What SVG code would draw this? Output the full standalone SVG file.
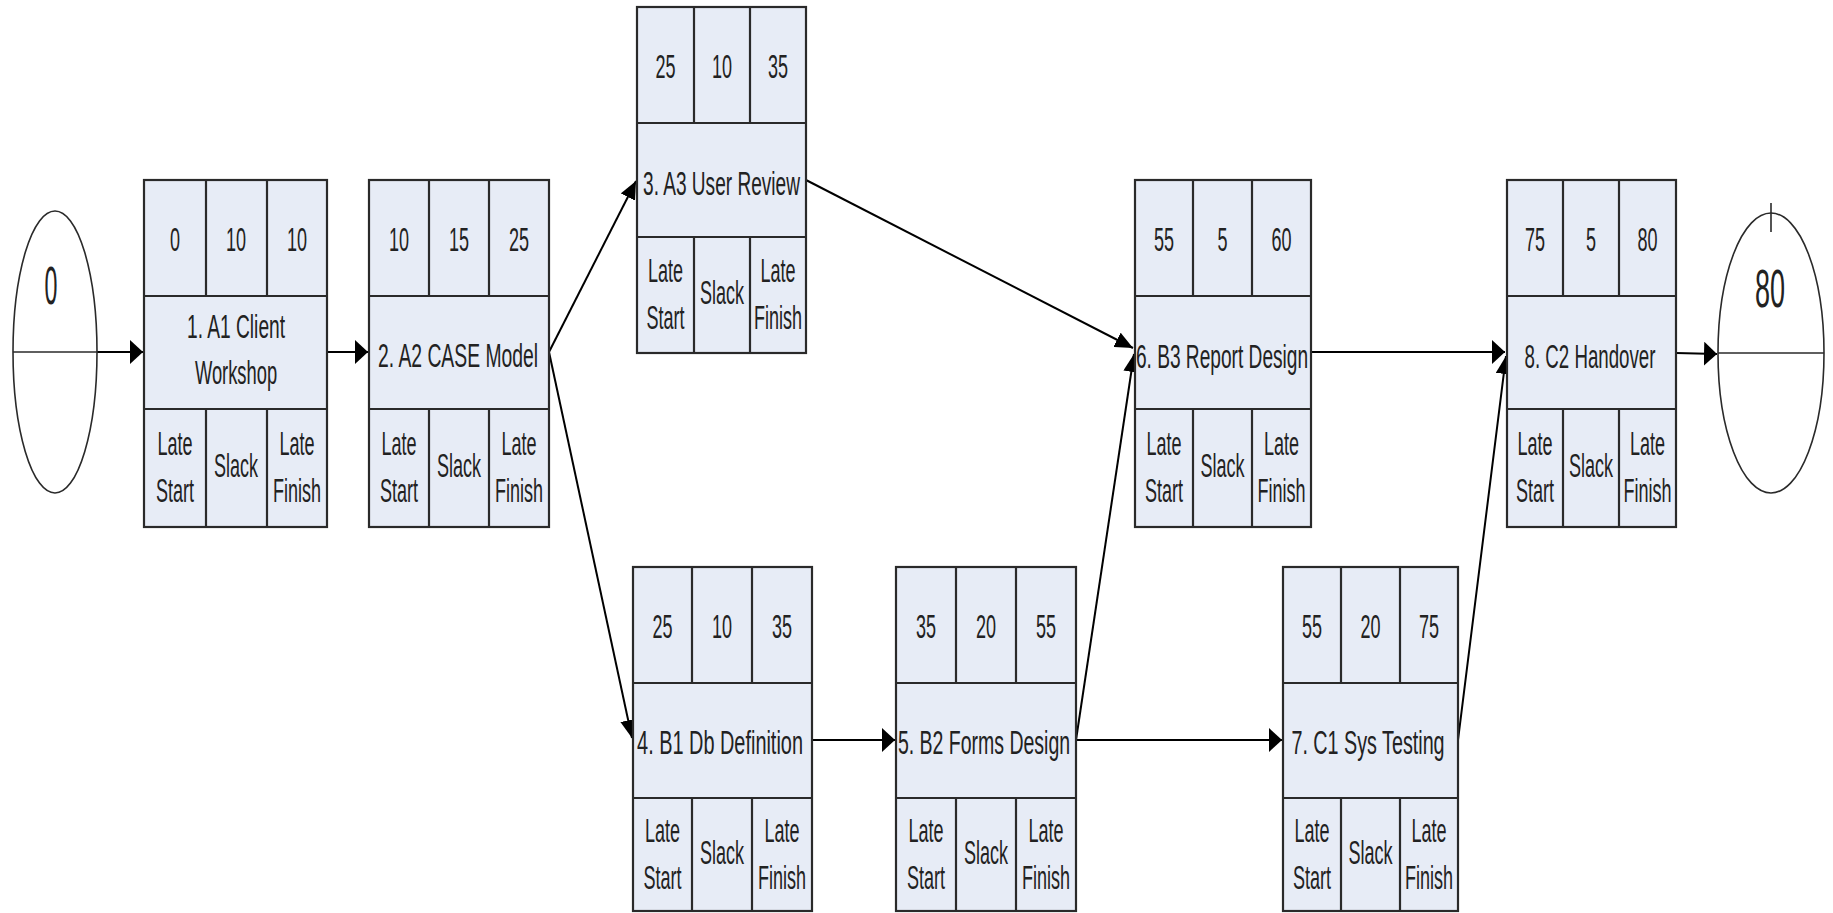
<svg xmlns="http://www.w3.org/2000/svg" width="1833" height="913" viewBox="0 0 1833 913">
<defs>
<style>
.bg{fill:#ffffff}
.box{fill:#e7ecf6;stroke:#2a2a2a;stroke-width:2.2}
.div{stroke:#2a2a2a;stroke-width:2.2;fill:none}
.ev{fill:#ffffff;stroke:#2a2a2a;stroke-width:1.6}
.evl{stroke:#2a2a2a;stroke-width:1.6;fill:none}
text{font-family:"Liberation Sans",Arial,sans-serif;font-size:34px;fill:#222;text-anchor:middle}
.big{font-size:54px}
.con{stroke:#000;stroke-width:2;fill:none}
.h{marker-end:url(#ah)}
.d{marker-end:url(#ad)}
</style>
<marker id="ah" viewBox="0 0 13 24" refX="13" refY="12" markerWidth="13" markerHeight="24" markerUnits="userSpaceOnUse" orient="auto">
<path d="M0,0 L13,12 L0,24 z" fill="#000"/>
</marker>
<marker id="ad" viewBox="0 0 18 16" refX="18" refY="8" markerWidth="18" markerHeight="16" markerUnits="userSpaceOnUse" orient="auto">
<path d="M0,0 L18,8 L0,16 z" fill="#000"/>
</marker>
</defs>
<rect class="bg" x="0" y="0" width="1833" height="913"/>

<g id="connectors">
<path class="con h" d="M97,352 L143,352"/>
<path class="con h" d="M327,352 L368,352"/>
<path class="con d" d="M549,352 L636,181"/>
<path class="con d" d="M549,352 L632,738"/>
<path class="con d" d="M806,180 L1133,348"/>
<path class="con h" d="M812,740 L895,740"/>
<path class="con d" d="M1076,740 L1134,354"/>
<path class="con h" d="M1076,740 L1282,740"/>
<path class="con h" d="M1311,352 L1505,352"/>
<path class="con d" d="M1458,740 L1506,356"/>
<path class="con h" d="M1676,353 L1717,354"/>
</g>

<g id="start">
<ellipse class="ev" cx="55" cy="352" rx="42" ry="141"/>
<path class="evl" d="M13,352 L97,352"/>
<text class="big" transform="translate(51,304) scale(.43,1)">0</text>
</g>

<g id="end">
<ellipse class="ev" cx="1771" cy="353" rx="53" ry="140"/>
<path class="evl" d="M1718,353 L1824,353"/>
<path class="evl" d="M1771,203 L1771,232"/>
<text class="big" transform="translate(1770,307) scale(.5,1)">80</text>
</g>

<g id="n1">
<rect class="box" x="144" y="180" width="183" height="347"/>
<path class="div" d="M144,296 H327 M144,409 H327 M206,180 V296 M267,180 V296 M206,409 V527 M267,409 V527"/>
<text transform="translate(175,251) scale(.53,1)">0</text>
<text transform="translate(236,251) scale(.53,1)">10</text>
<text transform="translate(297,251) scale(.53,1)">10</text>
<text transform="translate(236,338) scale(.53,1)" textLength="185" lengthAdjust="spacingAndGlyphs">1. A1 Client</text>
<text transform="translate(236,384) scale(.53,1)" textLength="155" lengthAdjust="spacingAndGlyphs">Workshop</text>
<text transform="translate(175,455) scale(.53,1)">Late</text>
<text transform="translate(175,502) scale(.53,1)">Start</text>
<text transform="translate(236,477) scale(.53,1)">Slack</text>
<text transform="translate(297,455) scale(.53,1)">Late</text>
<text transform="translate(297,502) scale(.53,1)">Finish</text>
</g>

<g id="n2">
<rect class="box" x="369" y="180" width="180" height="347"/>
<path class="div" d="M369,296 H549 M369,409 H549 M429,180 V296 M489,180 V296 M429,409 V527 M489,409 V527"/>
<text transform="translate(399,251) scale(.53,1)">10</text>
<text transform="translate(459,251) scale(.53,1)">15</text>
<text transform="translate(519,251) scale(.53,1)">25</text>
<text transform="translate(458,367) scale(.53,1)" textLength="302" lengthAdjust="spacingAndGlyphs">2. A2 CASE Model</text>
<text transform="translate(399,455) scale(.53,1)">Late</text>
<text transform="translate(399,502) scale(.53,1)">Start</text>
<text transform="translate(459,477) scale(.53,1)">Slack</text>
<text transform="translate(519,455) scale(.53,1)">Late</text>
<text transform="translate(519,502) scale(.53,1)">Finish</text>
</g>

<g id="n3">
<rect class="box" x="637" y="7" width="169" height="346"/>
<path class="div" d="M637,123 H806 M637,237 H806 M694,7 V123 M750,7 V123 M694,237 V353 M750,237 V353"/>
<text transform="translate(665.5,78) scale(.53,1)">25</text>
<text transform="translate(722,78) scale(.53,1)">10</text>
<text transform="translate(778,78) scale(.53,1)">35</text>
<text transform="translate(721.5,195) scale(.53,1)" textLength="296" lengthAdjust="spacingAndGlyphs">3. A3 User Review</text>
<text transform="translate(665.5,282) scale(.53,1)">Late</text>
<text transform="translate(665.5,329) scale(.53,1)">Start</text>
<text transform="translate(722,304) scale(.53,1)">Slack</text>
<text transform="translate(778,282) scale(.53,1)">Late</text>
<text transform="translate(778,329) scale(.53,1)">Finish</text>
</g>

<g id="n4">
<rect class="box" x="633" y="567" width="179" height="344"/>
<path class="div" d="M633,683 H812 M633,798 H812 M692,567 V683 M752,567 V683 M692,798 V911 M752,798 V911"/>
<text transform="translate(662.5,638) scale(.53,1)">25</text>
<text transform="translate(722,638) scale(.53,1)">10</text>
<text transform="translate(782,638) scale(.53,1)">35</text>
<text transform="translate(720,754) scale(.53,1)" textLength="313" lengthAdjust="spacingAndGlyphs">4. B1 Db Definition</text>
<text transform="translate(662.5,842) scale(.53,1)">Late</text>
<text transform="translate(662.5,889) scale(.53,1)">Start</text>
<text transform="translate(722,864) scale(.53,1)">Slack</text>
<text transform="translate(782,842) scale(.53,1)">Late</text>
<text transform="translate(782,889) scale(.53,1)">Finish</text>
</g>

<g id="n5">
<rect class="box" x="896" y="567" width="180" height="344"/>
<path class="div" d="M896,683 H1076 M896,798 H1076 M956,567 V683 M1016,567 V683 M956,798 V911 M1016,798 V911"/>
<text transform="translate(926,638) scale(.53,1)">35</text>
<text transform="translate(986,638) scale(.53,1)">20</text>
<text transform="translate(1046,638) scale(.53,1)">55</text>
<text transform="translate(984,754) scale(.53,1)" textLength="325" lengthAdjust="spacingAndGlyphs">5. B2 Forms Design</text>
<text transform="translate(926,842) scale(.53,1)">Late</text>
<text transform="translate(926,889) scale(.53,1)">Start</text>
<text transform="translate(986,864) scale(.53,1)">Slack</text>
<text transform="translate(1046,842) scale(.53,1)">Late</text>
<text transform="translate(1046,889) scale(.53,1)">Finish</text>
</g>

<g id="n6">
<rect class="box" x="1135" y="180" width="176" height="347"/>
<path class="div" d="M1135,296 H1311 M1135,409 H1311 M1193,180 V296 M1252,180 V296 M1193,409 V527 M1252,409 V527"/>
<text transform="translate(1164,251) scale(.53,1)">55</text>
<text transform="translate(1222.5,251) scale(.53,1)">5</text>
<text transform="translate(1281.5,251) scale(.53,1)">60</text>
<text transform="translate(1222,368) scale(.53,1)" textLength="325" lengthAdjust="spacingAndGlyphs">6. B3 Report Design</text>
<text transform="translate(1164,455) scale(.53,1)">Late</text>
<text transform="translate(1164,502) scale(.53,1)">Start</text>
<text transform="translate(1222.5,477) scale(.53,1)">Slack</text>
<text transform="translate(1281.5,455) scale(.53,1)">Late</text>
<text transform="translate(1281.5,502) scale(.53,1)">Finish</text>
</g>

<g id="n7">
<rect class="box" x="1283" y="567" width="175" height="344"/>
<path class="div" d="M1283,683 H1458 M1283,798 H1458 M1341,567 V683 M1400,567 V683 M1341,798 V911 M1400,798 V911"/>
<text transform="translate(1312,638) scale(.53,1)">55</text>
<text transform="translate(1370.5,638) scale(.53,1)">20</text>
<text transform="translate(1429,638) scale(.53,1)">75</text>
<text transform="translate(1368,754) scale(.53,1)" textLength="289" lengthAdjust="spacingAndGlyphs">7. C1 Sys Testing</text>
<text transform="translate(1312,842) scale(.53,1)">Late</text>
<text transform="translate(1312,889) scale(.53,1)">Start</text>
<text transform="translate(1370.5,864) scale(.53,1)">Slack</text>
<text transform="translate(1429,842) scale(.53,1)">Late</text>
<text transform="translate(1429,889) scale(.53,1)">Finish</text>
</g>

<g id="n8">
<rect class="box" x="1507" y="180" width="169" height="347"/>
<path class="div" d="M1507,296 H1676 M1507,409 H1676 M1563,180 V296 M1619,180 V296 M1563,409 V527 M1619,409 V527"/>
<text transform="translate(1535,251) scale(.53,1)">75</text>
<text transform="translate(1591,251) scale(.53,1)">5</text>
<text transform="translate(1647.5,251) scale(.53,1)">80</text>
<text transform="translate(1590,368) scale(.53,1)" textLength="247" lengthAdjust="spacingAndGlyphs">8. C2 Handover</text>
<text transform="translate(1535,455) scale(.53,1)">Late</text>
<text transform="translate(1535,502) scale(.53,1)">Start</text>
<text transform="translate(1591,477) scale(.53,1)">Slack</text>
<text transform="translate(1647.5,455) scale(.53,1)">Late</text>
<text transform="translate(1647.5,502) scale(.53,1)">Finish</text>
</g>
</svg>
